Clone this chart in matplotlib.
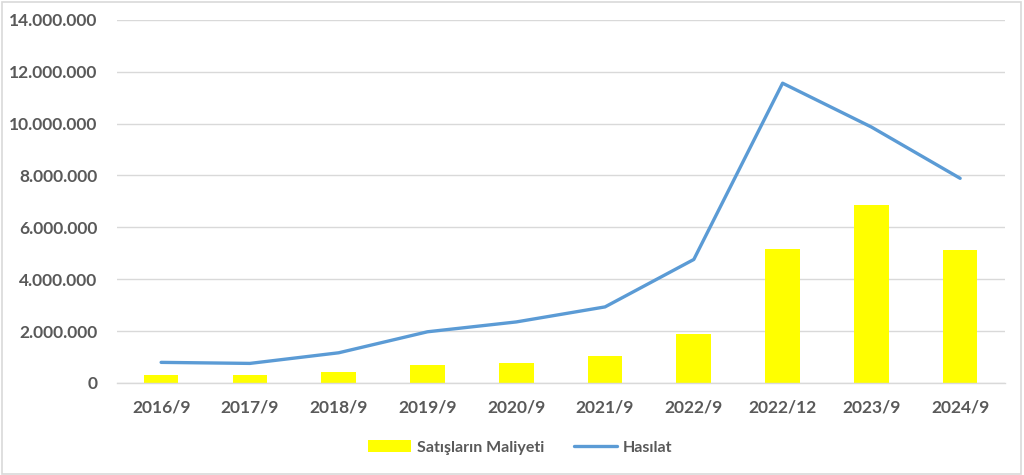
import matplotlib
matplotlib.use("Agg")
import matplotlib.pyplot as plt
from matplotlib.patches import Rectangle
from matplotlib.ticker import FuncFormatter

# Data
periods = ["2016/9", "2017/9", "2018/9", "2019/9", "2020/9",
           "2021/9", "2022/9", "2022/12", "2023/9", "2024/9"]
satis_maliyeti = [310000, 310000, 410000, 670000, 770000,
                  1050000, 1890000, 5170000, 6860000, 5130000]
hasilat = [790000, 750000, 1160000, 1970000, 2350000,
           2930000, 4760000, 11560000, 9870000, 7890000]

text_color = "#595959"
grid_color = "#D9D9D9"

plt.rcParams["font.family"] = ["Lato", "DejaVu Sans"]

fig = plt.figure(figsize=(10.24, 4.75), dpi=100)
ax = fig.add_axes([0.114, 0.194, 0.867, 0.764])

x = list(range(len(periods)))
bars = ax.bar(x, satis_maliyeti, width=0.39, color="#FFFF00", label="Satışların Maliyeti", zorder=2)
line, = ax.plot(x, hasilat, color="#5B9BD5", linewidth=2.4, label="Hasılat", zorder=3,
                solid_capstyle="round")

ax.set_ylim(0, 14000000)
ax.set_xlim(-0.5, len(periods) - 0.5)
ax.set_yticks(range(0, 14000001, 2000000))
ax.yaxis.set_major_formatter(FuncFormatter(lambda v, p: f"{int(v):,}".replace(",", ".")))
ax.set_xticks(x)
ax.set_xticklabels(periods)

ax.grid(axis="y", color=grid_color, linewidth=1.0, zorder=0)
ax.set_axisbelow(True)
for side in ["top", "right", "left"]:
    ax.spines[side].set_visible(False)
ax.spines["bottom"].set_color(grid_color)
ax.spines["bottom"].set_linewidth(1.0)
ax.tick_params(axis="both", length=0, labelsize=12.5, labelcolor=text_color, pad=12)
ax.tick_params(axis="y", pad=14)
for lbl in ax.get_xticklabels() + ax.get_yticklabels():
    lbl.set_fontweight("bold")

leg = fig.legend([bars, line], ["Satışların Maliyeti", "Hasılat"],
                 loc="center", bbox_to_anchor=(0.508, 0.058), ncol=2, frameon=False,
                 prop={"size": 11.5, "weight": "bold"}, handlelength=2.7, handleheight=0.8,
                 columnspacing=1.8, handletextpad=0.4)
for t in leg.get_texts():
    t.set_color(text_color)

# Chart area border
fig.patches.append(Rectangle((0.002, 0.003), 0.995, 0.993, transform=fig.transFigure,
                             fill=False, edgecolor="#D9D9D9", linewidth=1.2))

fig.savefig("out.png", dpi=100)
